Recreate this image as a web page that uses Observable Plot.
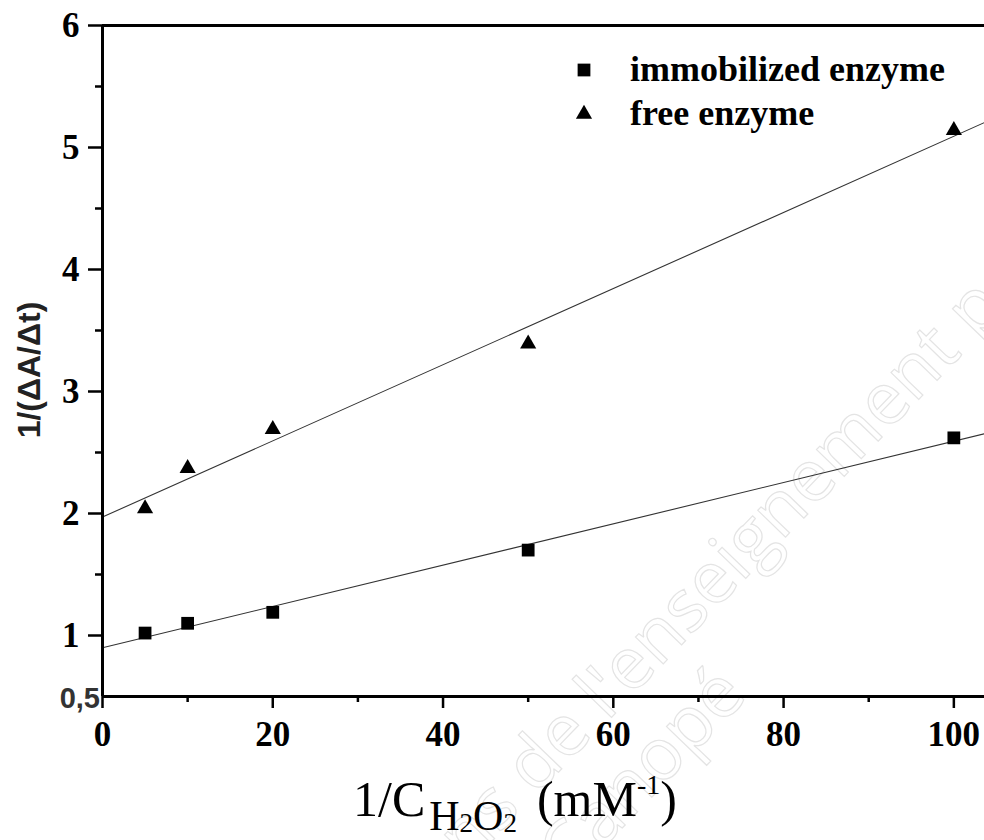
<!DOCTYPE html>
<html><head><meta charset="utf-8">
<script src="https://cdn.jsdelivr.net/npm/d3@7"></script>
<script src="https://cdn.jsdelivr.net/npm/@observablehq/plot@0.6"></script>
<style>
body{margin:0;background:#fff}
#chart{width:984px;height:840px;overflow:hidden;position:relative}
</style>
</head><body><div id="chart"></div>
<script>
// ---- data ----
const xValues = [5, 10, 20, 50, 100];
const immobilized = [1.02, 1.10, 1.19, 1.70, 2.62];
const free = [2.04, 2.37, 2.69, 3.39, 5.14];
const seriesNames = ["immobilized enzyme", "free enzyme"];
const xTicks = [0, 20, 40, 60, 80, 100];
const xMinorTicks = [10, 30, 50, 70, 90];
const yTicks = [1, 2, 3, 4, 5, 6];
const yMinorTicks = [1.5, 2.5, 3.5, 4.5, 5.5];
const yExtraLabel = "0,5";
const xDomain = [0, 103.6];
const yDomain = [0.5, 6];

const seriesValues = [immobilized, free];
const points = seriesNames.flatMap((s, i) => xValues.map((x, j) => ({x, y: seriesValues[i][j], series: s})));

function fit(xs, ys) {
  const mx = d3.mean(xs), my = d3.mean(ys);
  let sxy = 0, sxx = 0;
  xs.forEach((x, i) => { sxy += (x - mx) * (ys[i] - my); sxx += (x - mx) ** 2; });
  const b = sxy / sxx;
  return {a: my - b * mx, b};
}
const fitRows = seriesNames.flatMap((s, i) => {
  const {a, b} = fit(xValues, seriesValues[i]);
  return xDomain.map(x => ({x, y: a + b * x, series: s}));
});

const serif = "'Liberation Serif', 'Times New Roman', serif";
const sans = "'Liberation Sans', Arial, sans-serif";
const blank = () => "";
const intFmt = d => String(d);

const svg = Plot.plot({
  width: 984, height: 840,
  marginLeft: 102, marginRight: 0, marginTop: 25, marginBottom: 144,
  style: {fontFamily: serif, background: "white", color: "black"},
  x: {domain: xDomain},
  y: {domain: yDomain},
  symbol: {domain: seriesNames, range: ["square", "triangle"]},
  marks: [
    Plot.line(fitRows, {x: "x", y: "y", z: "series", stroke: "#333", strokeWidth: 1.1}),
    Plot.dot(points.filter(d => d.series === seriesNames[0]), {x: "x", y: "y", symbol: "series", fill: "black", r: 7.2}),
    Plot.dot(points.filter(d => d.series === seriesNames[1]), {x: "x", y: "y", symbol: "series", fill: "black", r: 6}),
    Plot.ruleX([xDomain[0]], {strokeWidth: 3}),
    Plot.ruleY([yDomain[0]], {strokeWidth: 3}),
    Plot.ruleY([yDomain[1]], {strokeWidth: 3}),
    Plot.axisY(yTicks, {anchor: "left", tickSize: 14, tickPadding: 9, fontSize: 35, fontWeight: "bold", strokeWidth: 2.5, label: null, tickFormat: intFmt}),
    Plot.axisY(yMinorTicks, {anchor: "left", tickSize: 7, strokeWidth: 2.5, tickFormat: blank, label: null}),
    Plot.axisX(xTicks, {anchor: "bottom", tickSize: 12, tickPadding: 13, fontSize: 35, fontWeight: "bold", strokeWidth: 2.5, label: null, tickFormat: intFmt}),
    Plot.axisX(xMinorTicks, {anchor: "bottom", tickSize: 6, strokeWidth: 2.5, tickFormat: blank, label: null})
  ]
});

const s = d3.select(svg);

// faint watermark (behind everything)
const wm = s.insert("g", ":first-child").attr("fill", "none").attr("stroke", "#e4e4e4").attr("stroke-width", 1.2)
  .attr("text-anchor", "start")
  .style("font-family", "'Open Sans', 'DejaVu Sans', sans-serif").style("font-size", "72px");
wm.append("text").attr("transform", "translate(440,895) rotate(-46)").text("ens de l'enseignement p");
wm.append("text").attr("transform", "translate(570,882) rotate(-46)").text("Canopé");

// "0,5" label
s.append("text").attr("x", 100).attr("y", 708).attr("text-anchor", "end")
  .style("font-family", sans).style("font-weight", "bold").style("font-size", "29px").attr("fill", "#333")
  .text(yExtraLabel);

// y-axis title
s.append("text").attr("transform", "translate(40,370) rotate(-90)").attr("text-anchor", "middle")
  .style("font-family", sans).style("font-weight", "bold").style("font-size", "32px").attr("fill", "#222")
  .text("1/(ΔA/Δt)");

// x-axis title
const xt = s.append("text").attr("x", 353).attr("y", 816).attr("text-anchor", "start")
  .style("font-family", serif).style("font-size", "50px").attr("fill", "black");
xt.append("tspan").text("1/C");
xt.append("tspan").attr("dx", 4).attr("dy", 14).style("font-size", "42px").text("H");
xt.append("tspan").attr("dy", 2).style("font-size", "27px").text("2");
xt.append("tspan").attr("dy", -2).style("font-size", "42px").text("O");
xt.append("tspan").attr("dy", 2).style("font-size", "27px").text("2");
xt.append("tspan").attr("dx", 20).attr("dy", -16).text("(mM");
xt.append("tspan").attr("dy", -22).style("font-size", "28px").text("-1");
xt.append("tspan").attr("dy", 22).text(")");

// legend
const lg = s.append("g").attr("text-anchor", "start");
const sym = [d3.symbolSquare, d3.symbolTriangle];
const sizes = [Math.PI * 7.2 * 7.2, Math.PI * 6 * 6];
seriesNames.forEach((name, i) => {
  const cy = 70 + i * 44;
  lg.append("path").attr("transform", `translate(584,${cy})`).attr("d", d3.symbol(sym[i], sizes[i])()).attr("fill", "black");
  lg.append("text").attr("x", 630).attr("y", cy + 11)
    .style("font-family", serif).style("font-weight", "bold").style("font-size", "36px").attr("fill", "black")
    .text(name);
});

document.getElementById("chart").appendChild(svg);
</script>
</body></html>
